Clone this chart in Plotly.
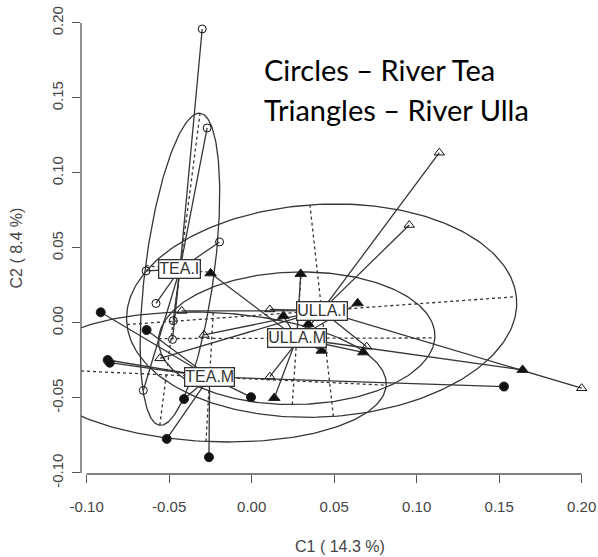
import numpy as np
import plotly.graph_objects as go

# ---------------- data ----------------
groups = ["TEA.I", "TEA.M", "ULLA.I", "ULLA.M"]
centroid_x = [-0.0435, -0.0255, 0.0424, 0.0273]
centroid_y = [0.0358, -0.0360, 0.0082, -0.0102]

# ellipse semi-axes (vectors) per group
major_dx = [0.0122, 0.1070, 0.1180, 0.0837]
major_dy = [0.1040, -0.0055, 0.0093, 0.0002]
minor_dx = [0.0208, 0.0022, -0.0071, 0.0027]
minor_dy = [-0.0024, 0.0430, 0.0705, 0.0442]

# River Tea, I (open circles)
tea_i_x = [-0.030, -0.027, -0.0195, -0.064, -0.058, -0.0475, -0.048, -0.0657]
tea_i_y = [0.196, 0.130, 0.054, 0.0347, 0.013, 0.0015, -0.011, -0.045]
# River Tea, M (filled circles)
tea_m_x = [-0.0915, -0.0873, -0.0860, -0.0637, -0.0515, -0.0410, -0.0259, -0.0004, 0.1529]
tea_m_y = [0.0071, -0.0247, -0.0265, -0.0047, -0.0773, -0.0507, -0.0895, -0.0495, -0.0424]
# River Ulla, I (open triangles)
ulla_i_x = [0.1137, 0.0955, 0.200, 0.0697, 0.011, 0.011, -0.0424, -0.0289, -0.0556]
ulla_i_y = [0.1135, 0.0653, -0.0435, -0.0158, 0.009, -0.0358, 0.008, -0.008, -0.0236]
# River Ulla, M (filled triangles)
ulla_m_x = [-0.0249, 0.0297, 0.0642, 0.1642, 0.0343, 0.0192, 0.0424, 0.0137, 0.0676]
ulla_m_y = [0.0331, 0.0327, 0.0131, -0.0313, -0.0007, 0.0047, -0.0185, -0.0500, -0.0196]

group_x = [tea_i_x, tea_m_x, ulla_i_x, ulla_m_x]
group_y = [tea_i_y, tea_m_y, ulla_i_y, ulla_m_y]
group_symbol = ["circle-open", "circle", "triangle-up-open", "triangle-up"]
group_size = [8, 9, 9, 10]

tick_vals_x = [-0.10, -0.05, 0.00, 0.05, 0.10, 0.15, 0.20]
tick_text_x = ["-0.10", "-0.05", "0.00", "0.05", "0.10", "0.15", "0.20"]
tick_vals_y = [-0.10, -0.05, 0.00, 0.05, 0.10, 0.15, 0.20]
tick_text_y = ["-0.10", "-0.05", "0.00", "0.05", "0.10", "0.15", "0.20"]

x_title = "C1 ( 14.3 %)"
y_title = "C2 ( 8.4 %)"
note_lines = ["Circles \u2013 River Tea", "Triangles \u2013 River Ulla"]

# ---------------- build figure ----------------
LINE = "#363636"
fig = go.Figure()

# ellipses
t = np.linspace(0, 2 * np.pi, 240)
ex, ey = [], []
ax_x, ax_y = [], []
for i in range(len(groups)):
    cx, cy = centroid_x[i], centroid_y[i]
    ex += list(cx + major_dx[i] * np.cos(t) + minor_dx[i] * np.sin(t)) + [None]
    ey += list(cy + major_dy[i] * np.cos(t) + minor_dy[i] * np.sin(t)) + [None]
    ax_x += [cx - major_dx[i], cx + major_dx[i], None, cx - minor_dx[i], cx + minor_dx[i], None]
    ax_y += [cy - major_dy[i], cy + major_dy[i], None, cy - minor_dy[i], cy + minor_dy[i], None]

fig.add_trace(go.Scatter(x=ex, y=ey, mode="lines", line=dict(color=LINE, width=1.3),
                         hoverinfo="skip", showlegend=False))
fig.add_trace(go.Scatter(x=ax_x, y=ax_y, mode="lines",
                         line=dict(color=LINE, width=1.3, dash="3px,3px"),
                         hoverinfo="skip", showlegend=False))

# spider lines
sx, sy = [], []
for i in range(len(groups)):
    for px, py in zip(group_x[i], group_y[i]):
        sx += [centroid_x[i], px, None]
        sy += [centroid_y[i], py, None]
fig.add_trace(go.Scatter(x=sx, y=sy, mode="lines", line=dict(color=LINE, width=1.3),
                         hoverinfo="skip", showlegend=False))

# points
for i in range(len(groups)):
    fig.add_trace(go.Scatter(
        x=group_x[i], y=group_y[i], mode="markers", name=groups[i],
        marker=dict(symbol=group_symbol[i], size=group_size[i], color="#111111",
                    line=dict(color="#222222", width=1)),
        showlegend=False))

# centroid labels
for i in range(len(groups)):
    fig.add_annotation(x=centroid_x[i], y=centroid_y[i], text=groups[i], showarrow=False,
                       xref="x", yref="y",
                       font=dict(family="Liberation Sans", size=16, color="#333333"),
                       bgcolor="white", bordercolor="#333333", borderwidth=1.3, borderpad=0)

# axis lines (from first to last tick, R style)
fig.add_shape(type="line", xref="x", yref="paper", x0=tick_vals_x[0], x1=tick_vals_x[-1],
              y0=0, y1=0, line=dict(color="#555555", width=1.3))
fig.add_shape(type="line", xref="paper", yref="y", x0=0, x1=0, y0=tick_vals_y[0],
              y1=tick_vals_y[-1], line=dict(color="#555555", width=1.3))

# axis titles
fig.add_annotation(text=x_title, xref="paper", yref="paper", x=0.5, y=-0.157,
                   xanchor="center", yanchor="middle", showarrow=False,
                   font=dict(family="Liberation Sans", size=16, color="#444444"))
fig.add_annotation(text=y_title, xref="paper", yref="paper", x=-0.124, y=0.49,
                   xanchor="center", yanchor="middle", showarrow=False, textangle=-90,
                   font=dict(family="Liberation Sans", size=16, color="#444444"))

# note text
fig.add_annotation(text=note_lines[0], xref="x", yref="y", x=0.0065, y=0.169,
                   xanchor="left", yanchor="middle", showarrow=False,
                   font=dict(family="Lato", size=29, color="black"))
fig.add_annotation(text=note_lines[1], xref="x", yref="y", x=0.0065, y=0.1425,
                   xanchor="left", yanchor="middle", showarrow=False,
                   font=dict(family="Lato", size=29, color="black"))

fig.update_layout(
    width=598, height=557, autosize=False,
    margin=dict(l=81, r=0, t=12, b=83),
    plot_bgcolor="white", paper_bgcolor="white",
    showlegend=False,
    xaxis=dict(range=[-0.10345, 0.20988], tickvals=tick_vals_x, ticktext=tick_text_x,
               ticks="outside", ticklen=8, tickwidth=1.3, tickcolor="#555555",
               showgrid=False, zeroline=False, showline=False, ticklabelstandoff=11,
               tickfont=dict(family="Liberation Sans", size=15, color="#444444")),
    yaxis=dict(range=[-0.1007, 0.2073], tickvals=tick_vals_y, ticktext=tick_text_y,
               ticks="outside", ticklen=8, tickwidth=1.3, tickcolor="#555555",
               showgrid=False, zeroline=False, showline=False, tickangle=-90,
               ticklabelstandoff=3,
               tickfont=dict(family="Liberation Sans", size=15, color="#444444")),
)

fig.write_html("out.html")
